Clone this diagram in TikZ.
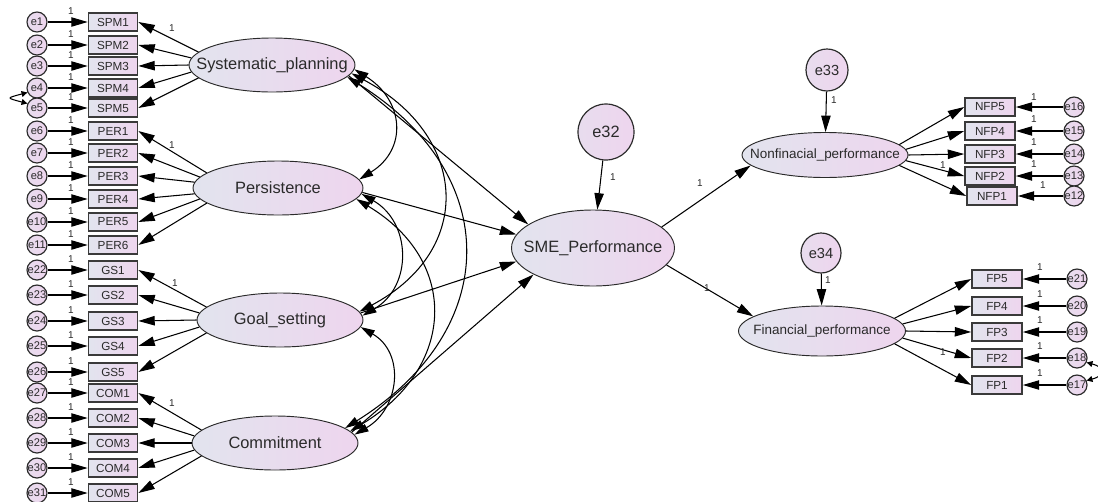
\documentclass[tikz,border=0pt]{standalone}
\usepackage{fontspec}
\setmainfont{Liberation Sans}
\usetikzlibrary{arrows.meta,shapes.geometric}
\definecolor{lavL}{HTML}{E2E4EE}
\definecolor{lavR}{HTML}{EED5EE}
\definecolor{ink}{HTML}{2A2A2A}
\definecolor{boxedge}{HTML}{3A3A3A}
\begin{document}
\begin{tikzpicture}[x=0.03cm,y=0.03cm,
  arr/.style={draw=black, line width=0.9pt, -{Triangle[length=14pt,width=8pt]}},
  darr/.style={draw=black, line width=0.9pt, {Triangle[length=12pt,width=7pt]}-{Triangle[length=12pt,width=7pt]}},
  sarr/.style={draw=black, line width=0.9pt, {Triangle[length=5pt,width=5pt]}-{Triangle[length=5pt,width=5pt]}},
  lat/.style={ellipse, draw=ink, line width=0.8pt, left color=lavL, right color=lavR, inner sep=0pt, font=\fontsize{14}{14}\selectfont, text=ink},
  latb/.style={lat, font=\fontsize{11.5}{11.5}\selectfont},
  ind/.style={rectangle, draw=boxedge, line width=1.4pt, left color=lavL, right color=lavR, minimum width=1.47cm, minimum height=0.54cm, inner sep=0pt, font=\fontsize{10}{10}\selectfont, text=ink},
  err/.style={circle, draw=ink, line width=1pt, left color=lavL!50!lavR, right color=lavR, minimum size=0.6cm, inner sep=0pt, font=\fontsize{9.5}{9.5}\selectfont, text=ink},
  bigerr/.style={err, font=\fontsize{12.5}{12.5}\selectfont},
  one/.style={font=\fontsize{8.5}{8.5}\selectfont, text=ink, inner sep=0pt}]

\useasboundingbox (0,0) rectangle (1098,-501);

% ---------- latent variables ----------
\node[lat, minimum width=4.98cm, minimum height=1.62cm] (sp) at (272,-65) {\makebox[0pt]{Systematic\_planning}};
\node[lat, minimum width=5.1cm, minimum height=1.62cm] (per) at (278,-188) {\makebox[0pt]{Persistence}};
\node[lat, minimum width=4.98cm, minimum height=1.62cm] (gs) at (280,-320) {\makebox[0pt]{Goal\_setting}};
\node[lat, minimum width=4.98cm, minimum height=1.62cm] (com) at (275,-443) {\makebox[0pt]{Commitment}};
\node[lat, minimum width=4.89cm, minimum height=2.28cm] (sme) at (593,-248) {\makebox[0pt]{SME\_Performance}};
\node[latb, minimum width=4.98cm, minimum height=1.35cm] (nfp) at (825,-155) {\makebox[0pt]{Nonfinacial\_performance}};
\node[latb, minimum width=5.01cm, minimum height=1.5cm] (fp) at (822,-331) {\makebox[0pt]{Financial\_performance}};

% ---------- disturbances ----------
\node[bigerr, minimum size=1.68cm, font=\fontsize{14}{14}\selectfont] (e32) at (606,-132) {e32};
\node[bigerr, minimum size=1.26cm] (e33) at (827,-70) {e33};
\node[bigerr, minimum size=1.2cm] (e34) at (821,-253) {e34};
\draw[arr] (e32) -- (sme);
\draw[arr] (e33) -- (nfp);
\draw[arr] (e34) -- (fp);
\node[one] at (613,-177) {1};
\node[one] at (834,-100) {1};
\node[one] at (828,-280) {1};

% ---------- left indicators ----------
\foreach \n/\lab/\y/\e in {spm1/SPM1/22/e1, spm2/SPM2/45/e2, spm3/SPM3/66/e3, spm4/SPM4/88/e4, spm5/SPM5/108/e5,
  per1/PER1/131/e6, per2/PER2/153/e7, per3/PER3/176/e8, per4/PER4/199/e9, per5/PER5/222/e10, per6/PER6/245/e11,
  gs1/GS1/270/e22, gs2/GS2/295/e23, gs3/GS3/321/e24, gs4/GS4/346/e25, gs5/GS5/372/e26,
  com1/COM1/393/e27, com2/COM2/418/e28, com3/COM3/443/e29, com4/COM4/468/e30, com5/COM5/493/e31} {
  \node[ind] (\n) at (113,-\y) {\lab};
  \node[err] (\e) at (37,-\y) {\makebox[0pt]{\e}};
  \draw[arr] (\e) -- (\n);
  \node[one] at (71,-\y+11) {1};
}

\foreach \n/\a in {spm1/170,spm2/175,spm3/180,spm4/185,spm5/190} \draw[arr] (sp.\a) -- (\n.east);
\foreach \n/\a in {per1/168,per2/172,per3/176,per4/184,per5/188,per6/192} \draw[arr] (per.\a) -- (\n.east);
\foreach \n/\a in {gs1/170,gs2/175,gs3/180,gs4/185,gs5/190} \draw[arr] (gs.\a) -- (\n.east);
\foreach \n/\a in {com1/170,com2/175,com3/180,com4/185,com5/190} \draw[arr] (com.\a) -- (\n.east);
\node[one] at (172,-28) {1};
\node[one] at (172,-145) {1};
\node[one] at (175,-283) {1};
\node[one] at (172,-403) {1};

\draw[sarr] (e4.205) .. controls +(195:22) and +(165:22) .. (e5.155);

% ---------- right indicators ----------
\foreach \n/\lab/\x/\y/\e/\ex/\a in {nfp5/NFP5/990/107/e16/1074/8, nfp4/NFP4/990/131/e15/1074/4, nfp3/NFP3/990/154/e14/1074/0,
  nfp2/NFP2/990/176/e13/1074/-4, nfp1/NFP1/992/196/e12/1074/-8} {
  \node[ind, minimum width=1.5cm] (\n) at (\x,-\y) {\lab};
  \node[err] (\e) at (\ex,-\y) {\makebox[0pt]{\e}};
  \draw[arr] (\e) -- (\n);
  \draw[arr] (nfp.\a) -- (\n.west);
}
\node[one] at (1034,-97) {1};
\node[one] at (1034,-119) {1};
\node[one] at (1034,-142) {1};
\node[one] at (1034,-164) {1};
\node[one] at (1043,-185) {1};
\node[one] at (943,-165) {1};

\foreach \n/\lab/\y/\e/\a in {fp5/FP5/279/e21/10, fp4/FP4/306/e20/5, fp3/FP3/332/e19/0,
  fp2/FP2/358/e18/-5, fp1/FP1/385/e17/-10} {
  \node[ind, minimum width=1.5cm] (\n) at (997,-\y) {\lab};
  \node[err] (\e) at (1077,-\y) {\makebox[0pt]{\e}};
  \draw[arr] (\e) -- (\n);
  \draw[arr] (fp.\a) -- (\n.west);
  \node[one] at (1040,-\y+12) {1};
}
\node[one] at (943,-352) {1};
\draw[sarr] (e18.-25) .. controls +(-15:20) and +(15:20) .. (e17.25);

% ---------- structural paths ----------
\draw[arr] (sp.-8) -- (sme.160);
\draw[arr] (per.-3) -- (sme.170);
\draw[arr] (gs.5) -- (sme.190);
\draw[arr] (com.8) -- (sme.204);
\draw[arr] (sme.17) -- (nfp.188);
\draw[arr] (sme.-13) -- (fp.168);
\node[one] at (700,-183) {1};
\node[one] at (707,-288) {1};

% ---------- covariances ----------
\draw[darr] (sp.-3) .. controls +(-32:58) and +(32:58) .. (per.6);
\draw[darr] (sp.-6) .. controls +(-28:132) and +(28:132) .. (gs.6);
\draw[darr] (sp.-9) .. controls +(-32:185) and +(32:185) .. (com.12);
\draw[darr] (per.-4) .. controls +(-30:58) and +(30:58) .. (gs.3);
\draw[darr] (per.-8) .. controls +(-31:122) and +(31:122) .. (com.9);
\draw[darr] (gs.-5) .. controls +(-30:52) and +(30:52) .. (com.6);
\end{tikzpicture}
\end{document}
